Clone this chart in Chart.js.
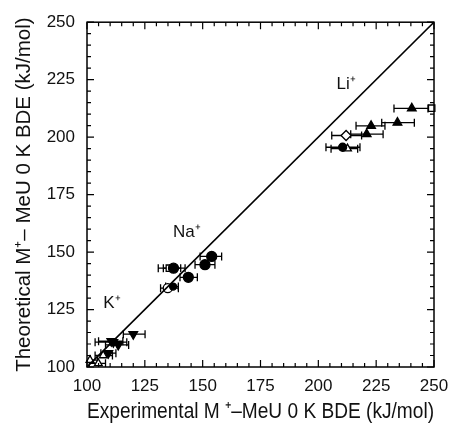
<!DOCTYPE html>
<html>
<head>
<meta charset="utf-8">
<script src="https://cdn.jsdelivr.net/npm/chart.js@4.4.1/dist/chart.umd.min.js"></script>
<style>
  html, body { margin: 0; padding: 0; background: #fff; }
  #wrap { width: 461px; height: 429px; }
</style>
</head>
<body>
<div id="wrap"><canvas id="chart"></canvas></div>
<script>
// axis ticks
const tickValues = [100, 125, 150, 175, 200, 225, 250];

// Li+ complexes
const liTriX = [240.4, 234.2, 222.8, 220.9];
const liTriY = [212.5, 206.3, 204.9, 201.3];
const liTriLo = [232.7, 227.4, 216.3, 214.0];
const liTriHi = [247.4, 241.5, 228.8, 228.0];

const liSqX = [249.0];
const liSqY = [212.6];

const liDiaX = [212.0];
const liDiaY = [200.7];
const liDiaLo = [205.8];
const liDiaHi = [218.7];

const liCircX = [210.5];
const liCircY = [195.6];
const liCircLo = [203.3];
const liCircHi = [218.0];

const liOpenTriX = [212.6];
const liOpenTriY = [195.0];
const liOpenTriLo = [205.5];
const liOpenTriHi = [217.0];

// Na+ complexes
const naCircX = [153.9, 151.0, 143.8, 137.4];
const naCircY = [148.1, 144.5, 139.0, 143.0];
const naCircLo = [148.9, 146.7, 140.2, 133.0];
const naCircHi = [158.2, 155.3, 147.7, 142.4];

const naSqX = [135.6];
const naSqY = [143.0];
const naSqLo = [130.8];
const naSqHi = [140.5];

const naOpenCircX = [134.9];
const naOpenCircY = [134.3];
const naOpenCircLo = [131.8];
const naOpenCircHi = [139.5];

const naCirc2X = [137.2];
const naCirc2Y = [135.0];
const naCirc2Lo = [134.0];
const naCirc2Hi = [139.5];

// K+ complexes
const kInvX = [120.0];
const kInvY = [114.3];
const kInvLo = [115.7];
const kInvHi = [125.1];

const kCircX = [111.4, 113.5, 109.2, 110.5];
const kCircY = [110.8, 109.6, 106.0, 111.2];
const kCircLo = [103.5, 108.0, 106.0, 105.0];
const kCircHi = [117.2, 118.0, 112.5, 115.5];

const kOpenX = [107.0, 101.3, 104.9];
const kOpenY = [105.0, 103.0, 101.6];
const kOpenLo = [103.5, 99.0, 101.0];
const kOpenHi = [111.0, 104.5, 108.0];

// ion labels
const ionLabels = ['Li\u207A', 'Na\u207A', 'K\u207A'];
const ionLabelX = [212.0, 143.2, 110.8];
const ionLabelY = [222.8, 158.8, 127.6];

function makePoints(xs, ys, lo, hi) {
    return xs.map((x, i) => ({
        x: x,
        y: ys[i],
        lo: lo ? lo[i] : null,
        hi: hi ? hi[i] : null
    }));
}

function series(xs, ys, lo, hi, style, filled, radius, rotation) {
    return {
        type: 'scatter',
        data: makePoints(xs, ys, lo, hi),
        pointStyle: style,
        pointRadius: radius,
        pointRotation: rotation || 0,
        backgroundColor: filled ? '#000' : '#fff',
        borderColor: '#000',
        borderWidth: 1.3,
        clip: false
    };
}

// horizontal error bars with caps
const errorBars = {
    id: 'errorBars',
    beforeDatasetsDraw(chart) {
        const ctx = chart.ctx;
        const xs = chart.scales.x;
        const ys = chart.scales.y;
        const area = chart.chartArea;
        ctx.save();
        ctx.beginPath();
        ctx.rect(area.left, area.top, area.right - area.left, area.bottom - area.top);
        ctx.clip();
        ctx.strokeStyle = '#000';
        ctx.lineWidth = 1.3;
        chart.data.datasets.forEach(ds => {
            ds.data.forEach(p => {
                if (p.lo == null) return;
                const y = ys.getPixelForValue(p.y);
                const x1 = xs.getPixelForValue(p.lo);
                const x2 = xs.getPixelForValue(p.hi);
                ctx.beginPath();
                ctx.moveTo(x1, y);
                ctx.lineTo(x2, y);
                ctx.moveTo(x1, y - 4);
                ctx.lineTo(x1, y + 4);
                ctx.moveTo(x2, y - 4);
                ctx.lineTo(x2, y + 4);
                ctx.stroke();
            });
        });
        ctx.restore();
    }
};

// frame, inward ticks on all four sides, ion labels
const frameTicks = {
    id: 'frameTicks',
    afterDraw(chart) {
        const ctx = chart.ctx;
        const xs = chart.scales.x;
        const ys = chart.scales.y;
        const a = chart.chartArea;
        ctx.save();
        ctx.strokeStyle = '#000';
        ctx.lineWidth = 1.5;
        ctx.strokeRect(a.left, a.top, a.right - a.left, a.bottom - a.top);
        ctx.lineWidth = 1.2;
        ctx.beginPath();
        for (let v = 100; v <= 250; v += 5) {
            const len = v % 25 === 0 ? 7 : 4;
            const px = xs.getPixelForValue(v);
            const py = ys.getPixelForValue(v);
            ctx.moveTo(px, a.bottom); ctx.lineTo(px, a.bottom - len);
            ctx.moveTo(px, a.top); ctx.lineTo(px, a.top + len);
            ctx.moveTo(a.left, py); ctx.lineTo(a.left + len, py);
            ctx.moveTo(a.right, py); ctx.lineTo(a.right - len, py);
        }
        ctx.stroke();

        ctx.fillStyle = '#111';
        ctx.font = '17px "Liberation Sans", Arial, sans-serif';
        ctx.textAlign = 'center';
        ctx.textBaseline = 'middle';
        ionLabels.forEach((t, i) => {
            ctx.fillText(t, xs.getPixelForValue(ionLabelX[i]), ys.getPixelForValue(ionLabelY[i]));
        });
        ctx.restore();
    }
};

const fontFamily = '"Liberation Sans", Arial, sans-serif';

new Chart(document.getElementById('chart'), {
    type: 'scatter',
    data: {
        datasets: [
            {
                type: 'line',
                data: [{ x: 100, y: 100 }, { x: 250, y: 250 }],
                borderColor: '#000',
                borderWidth: 1.6,
                pointRadius: 0,
                fill: false
            },
            series(liTriX, liTriY, liTriLo, liTriHi, 'triangle', true, 5),
            series(liSqX, liSqY, null, null, 'rect', false, 4.5),
            series(liDiaX, liDiaY, liDiaLo, liDiaHi, 'rectRot', false, 5),
            series(liCircX, liCircY, liCircLo, liCircHi, 'circle', true, 4),
            series(liOpenTriX, liOpenTriY, liOpenTriLo, liOpenTriHi, 'triangle', false, 4.5),
            series(naCircX, naCircY, naCircLo, naCircHi, 'circle', true, 5),
            series(naSqX, naSqY, naSqLo, naSqHi, 'rect', false, 4.5),
            series(naCirc2X, naCirc2Y, naCirc2Lo, naCirc2Hi, 'circle', true, 3.5),
            series(naOpenCircX, naOpenCircY, naOpenCircLo, naOpenCircHi, 'circle', false, 4.5),
            series(kInvX, kInvY, kInvLo, kInvHi, 'triangle', true, 5, 180),
            series(kCircX, kCircY, kCircLo, kCircHi, 'triangle', true, 5, 180),
            series(kOpenX, kOpenY, kOpenLo, kOpenHi, 'triangle', false, 4.5)
        ]
    },
    options: {
        responsive: true,
        maintainAspectRatio: false,
        animation: false,
        layout: { padding: { top: 20, right: 27, left: 0, bottom: 0 } },
        plugins: {
            legend: { display: false },
            tooltip: { enabled: false }
        },
        scales: {
            x: {
                type: 'linear',
                min: 100,
                max: 250,
                afterBuildTicks: axis => { axis.ticks = tickValues.map(v => ({ value: v })); },
                afterFit: axis => { axis.height = 62; },
                grid: { display: false, drawTicks: false },
                border: { display: false },
                ticks: {
                    color: '#111',
                    padding: 9,
                    font: { family: fontFamily, size: 17 }
                },
                title: {
                    display: true,
                    text: 'Experimental M \u207A\u2013MeU 0 K BDE (kJ/mol)',
                    color: '#111',
                    padding: { top: 0 },
                    font: { family: fontFamily, size: 22 }
                }
            },
            y: {
                type: 'linear',
                min: 100,
                max: 250,
                afterBuildTicks: axis => { axis.ticks = tickValues.map(v => ({ value: v })); },
                afterFit: axis => { axis.width = 87; },
                grid: { display: false, drawTicks: false },
                border: { display: false },
                ticks: {
                    color: '#111',
                    padding: 12,
                    font: { family: fontFamily, size: 17 }
                },
                title: {
                    display: true,
                    text: 'Theoretical M\u207A\u2013 MeU 0 K BDE (kJ/mol)',
                    color: '#111',
                    padding: { top: 12, bottom: 0 },
                    font: { family: fontFamily, size: 20.5 }
                }
            }
        }
    },
    plugins: [errorBars, frameTicks]
});
</script>
</body>
</html>
